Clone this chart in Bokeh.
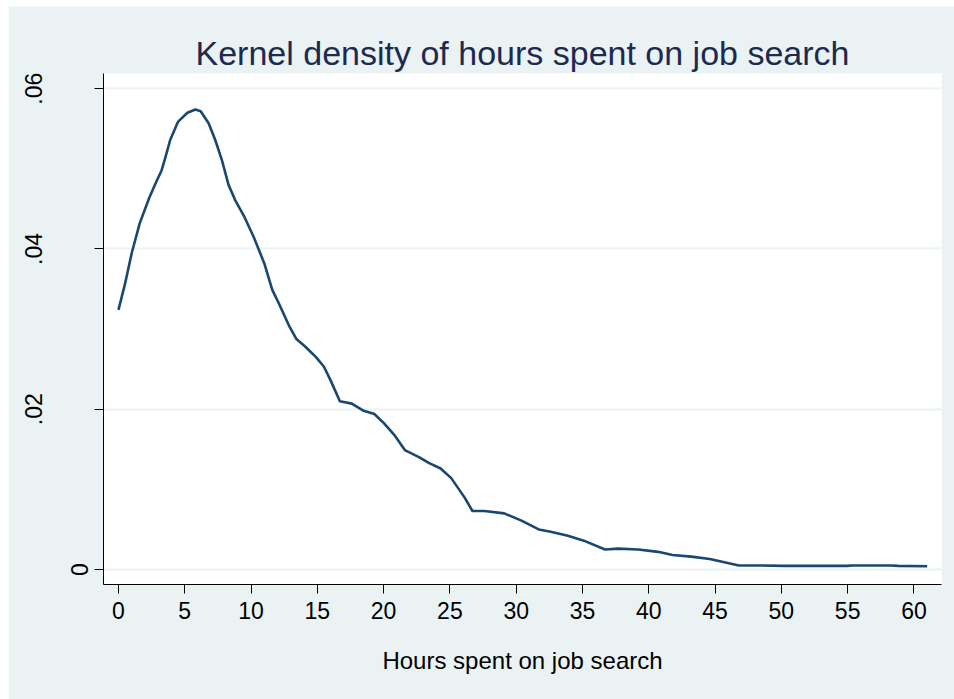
from bokeh.plotting import figure
from bokeh.models import LinearAxis, FixedTicker, Range1d
from bokeh.embed import file_html
from bokeh.resources import INLINE

# Data
hours = [0, 0.5, 1.0, 1.6, 2.3, 2.8, 3.25, 3.55, 3.9, 4.5, 5.2, 5.8, 6.2, 6.8, 7.3, 7.8,
         8.3, 8.8, 9.5, 10.2, 11.0, 11.6, 12.1, 12.9, 13.4, 14.1, 14.9, 15.5, 16.0, 16.7,
         17.6, 18.5, 19.3, 20.0, 20.8, 21.6, 22.7, 23.4, 24.3, 25.1, 26.1, 26.7, 27.6,
         29.1, 30.4, 31.7, 32.6, 33.9, 35.1, 36.7, 37.7, 39.2, 40.7, 41.8, 43.2, 44.6,
         45.7, 46.8, 48.4, 50.2, 55.0, 55.3, 58.3, 58.8, 61.0]
density = [0.0324, 0.0357, 0.0395, 0.0432, 0.0463, 0.0482, 0.0498, 0.0515, 0.0536, 0.0559,
           0.0570, 0.0574, 0.0572, 0.0557, 0.0536, 0.0511, 0.0480, 0.0461, 0.0440, 0.0415,
           0.0382, 0.0349, 0.0332, 0.0303, 0.0288, 0.0278, 0.0265, 0.0253, 0.0236, 0.0210,
           0.0207, 0.0198, 0.0194, 0.0183, 0.0168, 0.0149, 0.0140, 0.0133, 0.0126, 0.0114,
           0.0090, 0.0073, 0.0073, 0.0070, 0.0061, 0.0050, 0.0047, 0.0042, 0.0036, 0.0025,
           0.0026, 0.0025, 0.0022, 0.0018, 0.0016, 0.0013, 0.0009, 0.0005, 0.0005, 0.00045,
           0.00045, 0.0005, 0.0005, 0.00045, 0.0004]

x_ticks = [0, 5, 10, 15, 20, 25, 30, 35, 40, 45, 50, 55, 60]
y_ticks = [0, 0.02, 0.04, 0.06]
y_tick_labels = ["0", ".02", ".04", ".06"]

title_text = "Kernel density of hours spent on job search"
x_label = "Hours spent on job search"

BG = "#EAF2F3"
FONT = "Liberation Sans"

p = figure(width=946, height=693, output_backend="svg", toolbar_location=None,
           x_range=Range1d(-1.13, 62.08), y_range=Range1d(-0.001875, 0.0619),
           min_border_left=95, min_border_right=13, min_border_top=67, min_border_bottom=115)
p.margin = (6, 0, 0, 8)
p.background_fill_color = "white"
p.border_fill_color = BG
p.outline_line_color = None

p.title.text = title_text
p.title.align = "center"
p.title.text_font = FONT
p.title.text_font_size = "34px"
p.title.text_font_style = "normal"
p.title.text_color = "#1C2A52"
p.title.standoff = 3

p.line(hours, density, line_color="#1A476F", line_width=2.6, line_join="round")

# grid
p.xgrid.visible = False
p.ygrid.ticker = FixedTicker(ticks=y_ticks)
p.ygrid.grid_line_color = BG
p.ygrid.grid_line_width = 2

# x axis
xa = p.xaxis[0]
xa.ticker = FixedTicker(ticks=x_ticks)
xa.major_tick_out = 9
xa.major_tick_in = 0
xa.minor_tick_line_color = None
xa.axis_line_color = "black"
xa.major_tick_line_color = "black"
xa.major_label_text_font = FONT
xa.major_label_text_font_size = "23px"
xa.major_label_text_color = "black"
xa.major_label_standoff = 8
xa.axis_label = x_label
xa.axis_label_text_font = FONT
xa.axis_label_text_font_size = "24px"
xa.axis_label_text_font_style = "normal"
xa.axis_label_text_color = "black"
xa.axis_label_standoff = 25

# inner y axis: line, ticks and the "0" label
ya = p.yaxis[0]
ya.ticker = FixedTicker(ticks=y_ticks)
ya.major_tick_out = 9
ya.major_tick_in = 0
ya.minor_tick_line_color = None
ya.axis_line_color = "black"
ya.major_tick_line_color = "black"
ya.major_label_orientation = "vertical"
ya.major_label_text_font = FONT
ya.major_label_text_font_size = "23px"
ya.major_label_text_color = "black"
ya.major_label_standoff = 6
ya.major_label_overrides = {y_ticks[0]: y_tick_labels[0], y_ticks[1]: "", y_ticks[2]: "", y_ticks[3]: ""}

# outer y axis: the other labels further left
ya2 = LinearAxis(ticker=FixedTicker(ticks=y_ticks[1:]),
                 major_label_overrides={t: l for t, l in zip(y_ticks[1:], y_tick_labels[1:])},
                 axis_line_color=None, major_tick_line_color=None, minor_tick_line_color=None,
                 major_tick_out=0, major_tick_in=0,
                 major_label_orientation="vertical", major_label_standoff=26,
                 major_label_text_font=FONT, major_label_text_font_size="23px",
                 major_label_text_color="black")
p.add_layout(ya2, "left")

open("out.html", "w").write(file_html(p, INLINE))
